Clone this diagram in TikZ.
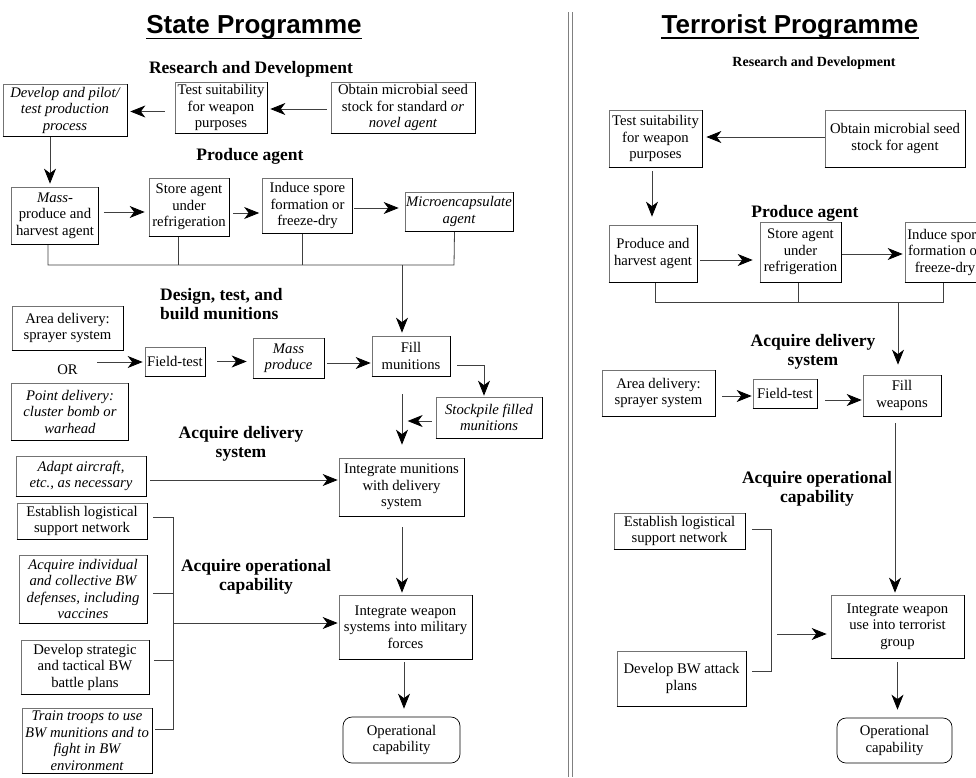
\documentclass[tikz,border=0pt]{standalone}
\usepackage{fontspec}
\setmainfont{Liberation Serif}
\newfontfamily\headsans{Liberation Sans}
\usetikzlibrary{arrows.meta}
\begin{document}
\begin{tikzpicture}[x=1pt,y=-1pt,
 box/.style={draw=black!55, line width=0.7pt, align=center, inner sep=1pt, fill=white, font=\fontsize{14.7}{16.5}\selectfont},
 rbox/.style={box},
 head/.style={font=\fontsize{17.5}{18.5}\selectfont\bfseries, align=center, inner sep=0pt},
 ttl/.style={font=\fontsize{26}{28}\selectfont\headsans\bfseries, inner sep=0pt, anchor=base},
 conn/.style={draw=black!75, line width=0.8pt},
 arr/.style={conn, -{Stealth[length=15pt,width=12pt,inset=4.5pt,black]}},
 rim/.style={black, line width=1pt}
]
\path[use as bounding box, clip] (0,0) rectangle (976,777);
\fill[white] (0,0) rectangle (976,777);

% divider
\draw[black!50, line width=0.8pt] (568,12) -- (568,777);
\draw[black!50, line width=0.8pt] (572,12) -- (572,777);

% ================= LEFT: State Programme =================
\node[ttl] (t1) at (254,33) {State Programme};
\draw[line width=1.7pt] ([yshift=-5.5pt]t1.base west) -- ([yshift=-5.5pt]t1.base east);

\node[head] (h1) at (251,69) {Research and Development};
\node[head] (h2) at (250,156) {Produce agent};
\node[head, align=left, anchor=west] (h3) at (160,304) {Design, test, and\\build munitions};
\node[head] (h4) at (241,444) {Acquire delivery\\system};
\node[head] (h5) at (256,577) {Acquire operational\\capability};

\node[box, minimum width=124, minimum height=52] (dev) at (65,110) {\itshape Develop and pilot/\\ \itshape test production\\ \itshape process};
\node[box, minimum width=92, minimum height=51] (test) at (221,107.5) {Test suitability\\for weapon\\purposes};
\node[box, minimum width=144, minimum height=51] (obtain) at (403,107.5) {Obtain microbial seed\\stock for standard \textit{or}\\\textit{novel agent}};
\node[box, minimum width=87, minimum height=57] (mass) at (55,215.5) {\textit{Mass-}\\produce and\\harvest agent};
\node[box, minimum width=80, minimum height=58] (store) at (189,207) {Store agent\\under\\refrigeration};
\node[box, minimum width=90, minimum height=55] (induce) at (307.5,205.5) {Induce spore\\formation or\\freeze-dry};
\node[box, minimum width=108, minimum height=39] (micro) at (459,211.5) {\itshape Microencapsulate\\ \itshape agent};
\node[box, minimum width=111, minimum height=44] (area) at (67.5,328) {Area delivery:\\sprayer system};
\node[box, minimum width=60, minimum height=29] (field) at (175,361.5) {Field-test};
\node[box, minimum width=71, minimum height=40] (massp) at (288.5,358) {\itshape Mass\\ \itshape produce};
\node[box, minimum width=78, minimum height=40] (fill) at (411,356) {Fill\\munitions};
\node[box, draw=none, fill=none] (or) at (67.5,370) {OR};
\node[box, minimum width=117, minimum height=57] (point) at (70,411.5) {\itshape Point delivery:\\ \itshape cluster bomb or\\ \itshape warhead};
\node[box, minimum width=106, minimum height=41] (stock) at (489,417.5) {\itshape Stockpile filled\\ \itshape munitions};
\node[box, minimum width=130, minimum height=40] (adapt) at (81,476) {\itshape Adapt aircraft,\\ \itshape etc., as necessary};
\node[box, minimum width=125, minimum height=58] (intm) at (401.5,487) {Integrate munitions\\with delivery\\system};
\node[box, minimum width=130, minimum height=36] (estab) at (82,521) {Establish logistical\\support network};
\node[box, minimum width=128, minimum height=68] (acqind) at (83,589) {\itshape Acquire individual\\ \itshape and collective BW\\ \itshape defenses, including\\ \itshape vaccines};
\node[box, minimum width=133, minimum height=64] (intw) at (405.5,627) {Integrate weapon\\systems into military\\forces};
\node[box, minimum width=128, minimum height=54] (devstr) at (85,667) {Develop strategic\\and tactical BW\\battle plans};
\node[box, minimum width=130, minimum height=65] (train) at (87,740.5) {\itshape Train troops to use\\ \itshape BW munitions and to\\ \itshape fight in BW\\ \itshape environment};
\node[box, draw=black, rounded corners=9pt, minimum width=117, minimum height=46] (opcap) at (401.5,740) {Operational\\capability};

% connectors left
\coordinate (bl) at (48,265);
\coordinate (br) at (454,265);
\coordinate (bj) at (402,265);
\coordinate (lt) at (173,517);
\coordinate (lb) at (173,729);
\coordinate (la) at (173,623);

\draw[arr, shorten <=10pt, shorten >=3pt] ([yshift=-4pt]test.west) -- ([yshift=-4pt]test.west -| dev.east);
\draw[arr, shorten <=4pt, shorten >=3pt] ([yshift=-1.5pt]obtain.west) -- ([yshift=-1.5pt]obtain.west -| test.east);
\draw[arr, shorten >=3pt] ([xshift=-5pt]mass.north |- dev.south) -- ([xshift=-5pt]mass.north);
\draw[arr, shorten <=5pt, shorten >=4pt] ([yshift=3.5pt]mass.east) -- ([yshift=3.5pt]mass.east -| store.west);
\draw[arr, shorten <=4pt, shorten >=3pt] ([yshift=-6pt]store.east) -- ([yshift=-6pt]store.east -| induce.west);
\draw[arr, shorten <=1pt, shorten >=6pt] ([yshift=-2.5pt]induce.east) -- ([yshift=-2.5pt]induce.east -| micro.west);
\draw[conn] ([xshift=-7pt]mass.south) -- (bl) -- (br) -- ([xshift=-4.5pt]micro.south);
\draw[conn] ([xshift=-11pt]store.south) -- ([xshift=-11pt]store.south |- bl);
\draw[conn] ([xshift=-5.5pt]induce.south) -- ([xshift=-5.5pt]induce.south |- bl);
\draw[arr, shorten >=3pt] (bj) -- (bj |- fill.north);
\draw[arr, shorten <=18pt, shorten >=2pt] ([yshift=8pt]or.east) -- ([yshift=8pt]or.east -| field.west);
\draw[arr, shorten <=12pt, shorten >=6pt] (field.east) -- (field.east -| massp.west);
\draw[arr, shorten <=3pt, shorten >=1pt] ([yshift=-5pt]massp.east) -- ([yshift=-5pt]massp.east -| fill.west);
\draw[arr, shorten <=7pt, shorten >=1pt] ([yshift=-9pt]fill.east) -| ([xshift=-5pt]stock.north);
\draw[arr, shorten <=4pt] ([yshift=-3.5pt]stock.west) -- ([xshift=-28pt,yshift=-3.5pt]stock.west);
\draw[arr] ([yshift=-18pt]fill.south -| bj) -- ([yshift=13pt]intm.north -| bj);
\draw[arr, shorten <=4pt, shorten >=1pt] ([yshift=-4pt]adapt.east) -- ([yshift=-4pt]adapt.east -| intm.west);
\draw[arr, shorten >=2pt] ([yshift=-11pt]intm.south -| bj) -- (intw.north -| bj);
\draw[conn, shorten <=6pt, shorten >=3pt] ([yshift=4pt]estab.east) -- (lt) -- (lb) -- ([yshift=11.5pt]train.east);
\draw[conn, shorten <=6pt] ([yshift=-4pt]acqind.east) -- ([yshift=-4pt]acqind.east -| lt);
\draw[conn, shorten <=5pt] ([yshift=7pt]devstr.east) -- ([yshift=7pt]devstr.east -| lt);
\draw[arr, shorten >=1pt] (la) -- (la -| intw.west);
\draw[arr, shorten <=3pt, shorten >=8pt] ([xshift=2pt]intw.south -| bj) -- ([xshift=2pt]opcap.north -| bj);

% ================= RIGHT: Terrorist Programme =================
\node[ttl] (t2) at (790,33) {Terrorist Programme};
\draw[line width=1.7pt] ([yshift=-5pt]t2.base west) -- ([yshift=-5pt]t2.base east);

\node[head, font=\fontsize{14}{15}\selectfont\bfseries] (rh1) at (814,63) {Research and Development};
\node[head] (rh2) at (805,213) {Produce agent};
\node[head] (rh3) at (813,352) {Acquire delivery\\system};
\node[head] (rh4) at (817,489) {Acquire operational\\capability};

\node[rbox, minimum width=93, minimum height=57] (rtest) at (655.5,138.5) {Test suitability\\for weapon\\purposes};
\node[rbox, minimum width=140, minimum height=57] (robtain) at (895,138.5) {Obtain microbial seed\\stock for agent};
\node[rbox, minimum width=88, minimum height=57] (rprod) at (653,253.5) {Produce and\\harvest agent};
\node[rbox, minimum width=81, minimum height=60] (rstore) at (800.5,252) {Store agent\\under\\refrigeration};
\node[rbox, minimum width=80, minimum height=60] (rinduce) at (945,252) {Induce spore\\formation or\\freeze-dry};
\node[rbox, minimum width=113, minimum height=46] (rarea) at (658.5,393) {Area delivery:\\sprayer system};
\node[rbox, minimum width=64, minimum height=29] (rfield) at (785,393.5) {Field-test};
\node[rbox, minimum width=78, minimum height=41] (rfill) at (902,395.5) {Fill\\weapons};
\node[rbox, minimum width=131, minimum height=36] (restab) at (679.5,531) {Establish logistical\\support network};
\node[rbox, minimum width=129, minimum height=55] (rdev) at (681.5,678.5) {Develop BW attack\\plans};
\node[rbox, minimum width=133, minimum height=63] (rintw) at (897.5,626.5) {Integrate weapon\\use into terrorist\\group};
\node[rbox, draw=black, rounded corners=9pt, minimum width=115, minimum height=45] (ropcap) at (894.5,740.5) {Operational\\capability};

\coordinate (rbl) at (655,302);
\coordinate (rbr) at (943,302);
\coordinate (rbj) at (898,302);
\coordinate (rlt) at (771,529);
\coordinate (rlb) at (771,671);
\coordinate (rla) at (777,634);

\draw[arr, shorten >=4pt] ([yshift=1.5pt]robtain.west) -- ([yshift=1.5pt]robtain.west -| rtest.east);
\draw[arr, shorten <=4pt, shorten >=8pt] ([xshift=-3.5pt]rtest.south) -- ([xshift=-3.5pt]rtest.south |- rprod.north);
\draw[arr, shorten <=3pt, shorten >=7pt] ([yshift=-6.5pt]rprod.east) -- ([yshift=-6.5pt]rprod.east -| rstore.west);
\draw[arr, shorten >=2pt] ([yshift=-2pt]rstore.east) -- ([yshift=-2pt]rstore.east -| rinduce.west);
\draw[conn] ([xshift=2pt]rprod.south) -- (rbl) -- (rbr) -- ([xshift=-2pt]rinduce.south);
\draw[conn] ([xshift=-2.5pt]rstore.south) -- ([xshift=-2.5pt]rstore.south |- rbl);
\draw[arr, shorten >=10pt] (rbj) -- (rbj |- rfill.north);
\draw[arr, shorten <=7pt, shorten >=1pt] ([yshift=-3pt]rarea.east) -- ([yshift=-3pt]rarea.east -| rfield.west);
\draw[arr, shorten <=8pt, shorten >=1pt] ([yshift=-6.5pt]rfield.east) -- ([yshift=-6.5pt]rfield.east -| rfill.west);
\draw[arr, shorten <=7pt, shorten >=2pt] ([xshift=-7pt]rfill.south) -- ([xshift=-7pt]rfill.south |- rintw.north);
\draw[conn, shorten <=7pt, shorten >=6pt] ([yshift=2pt]restab.east) -- (rlt) -- (rlb) -- ([yshift=7.5pt]rdev.east);
\draw[arr, shorten >=4pt] (rla) -- (rla -| rintw.west);
\draw[arr, shorten <=4pt, shorten >=8pt] (rintw.south) -- (rintw.south |- ropcap.north);

% darker right/bottom rims of the boxes
\foreach \n in {dev,test,obtain,mass,store,induce,micro,area,field,massp,fill,point,stock,adapt,intm,estab,acqind,intw,devstr,train,rtest,robtain,rprod,rstore,rinduce,rarea,rfield,rfill,restab,rdev,rintw}
  \draw[rim] (\n.south west) -- (\n.south east) -- (\n.north east);
\end{tikzpicture}
\end{document}
